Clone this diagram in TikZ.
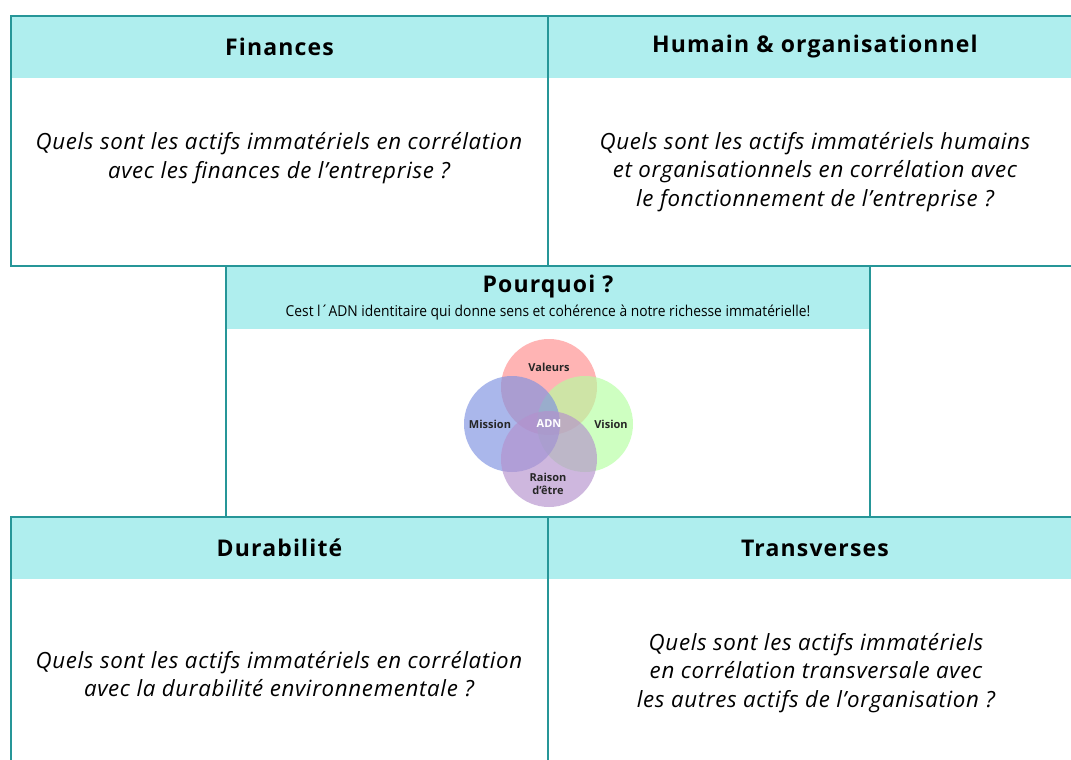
\documentclass[tikz,border=0pt]{standalone}
\usepackage{fontspec}
\setmainfont{Open Sans}
\definecolor{bordure}{RGB}{38,150,152}
\definecolor{entete}{RGB}{175,238,238}
\definecolor{rose}{RGB}{255,140,140}
\definecolor{vert}{RGB}{180,255,160}
\definecolor{bleu}{RGB}{125,145,225}
\definecolor{mauve}{RGB}{180,145,205}
\newcommand{\titre}{\bfseries\addfontfeatures{LetterSpace=5}\fontsize{23}{28}\selectfont}
\newcommand{\question}{\itshape\addfontfeatures{LetterSpace=3}\fontsize{22.3}{28.5}\selectfont}

\begin{document}
\begin{tikzpicture}
		[
		x=1pt,y=-1pt,
		cadre/.style={draw=bordure,line width=2pt,anchor=north west,inner sep=0pt,outer sep=0pt},
		bandeau/.style={fill=entete,anchor=north west,inner sep=0pt,outer sep=0pt,minimum height=62,font=\titre},
		question/.style={align=center,font=\question},
		cercle/.style={circle,minimum size=96,inner sep=0pt,fill opacity=0.65},
		venn/.style={font=\bfseries\fontsize{11}{13}\selectfont,text=black!85,align=center}
		]
		\useasboundingbox (0,0) rectangle (1071,760);
		% en-tetes
		\node[bandeau,minimum width=537](finances) at (11,16) {Finances};
		\node[bandeau,minimum width=534](humain) at (548,16) {Humain \& organisationnel};
		\node[bandeau,minimum width=537](durabilite) at (11,517) {Durabilité};
		\node[bandeau,minimum width=534](transverses) at (548,517) {Transverses};
		% cadres
		\node[cadre,minimum width=537,minimum height=250](finances_cadre) at (11,16) {};
		\node[cadre,minimum width=534,minimum height=250](humain_cadre) at (548,16) {};
		\node[cadre,minimum width=537,minimum height=260](durabilite_cadre) at (11,517) {};
		\node[cadre,minimum width=534,minimum height=260](transverses_cadre) at (548,517) {};
		\node[cadre,fill=white,minimum width=644,minimum height=251](pourquoi_cadre) at (226,266) {};
		\node[bandeau,minimum width=642,minimum height=62](pourquoi) at (227,267) {};
		\draw[bordure,line width=2pt] (pourquoi_cadre.north west) rectangle (pourquoi_cadre.south east);
		\node[font=\titre](pourquoi_titre) at (548,287) {Pourquoi ?};
		\node[font=\fontsize{15}{17}\selectfont,xscale=0.92](pourquoi_sous) at (548,313) {Cest l´ADN identitaire qui donne sens et cohérence à notre richesse immatérielle!};
		% questions
		\node[question](finances_texte) at (279,158) {Quels sont les actifs immatériels en corrélation\\avec les finances de l’entreprise ?};
		\node[question](humain_texte) at (815,172) {Quels sont les actifs immatériels humains\\et organisationnels en corrélation avec\\le fonctionnement de l’entreprise ?};
		\node[question](durabilite_texte) at (279,674) {Quels sont les actifs immatériels en corrélation\\avec la durabilité environnementale ?};
		\node[question](transverses_texte) at (816,673) {Quels sont les actifs immatériels\\en corrélation transversale avec\\les autres actifs de l’organisation ?};
		% ADN
		\node[cercle,fill=rose](valeurs) at (549,387) {};
		\node[cercle,fill=vert](vision) at (585,424) {};
		\node[cercle,fill=bleu](mission) at (512,424) {};
		\node[cercle,fill=mauve](raison) at (549,459) {};
		\node[venn](valeurs_txt) at (549,367) {Valeurs};
		\node[venn](mission_txt) at (490,424) {Mission};
		\node[venn](vision_txt) at (611,424) {Vision};
		\node[venn](raison_txt) at (548,484) {Raison\\d’être};
		\node[venn,text=white](adn) at (549,424) {ADN};
		\end{tikzpicture}
\end{document}
